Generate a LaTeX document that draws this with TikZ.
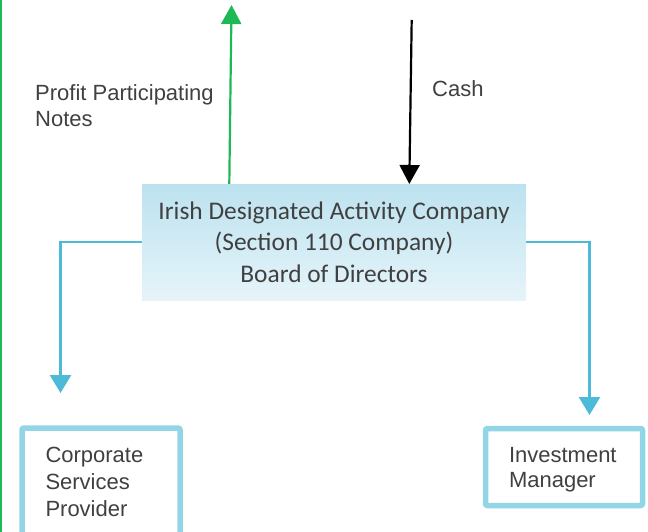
\documentclass[tikz,border=0pt]{standalone}
\usepackage{fontspec}
\setmainfont{Liberation Sans}
\newfontfamily\calfont{Carlito}
\usetikzlibrary{arrows.meta}
\definecolor{txt}{HTML}{404040}
\definecolor{grn}{HTML}{1DB954}
\definecolor{conn}{HTML}{4DBBD8}
\definecolor{bord}{HTML}{92D5E6}
\definecolor{boxtop}{HTML}{BCE2EF}
\definecolor{boxbot}{HTML}{E6F4F9}
\begin{document}
\begin{tikzpicture}[x=1pt,y=-1pt,
  mainbox/.style={rectangle, top color=boxtop, bottom color=boxbot, draw=none,
    minimum width=384pt, minimum height=116pt, inner sep=0pt, outer sep=0pt, align=center,
    text=txt, font=\calfont\fontsize{25.4}{31.7}\selectfont},
  sidebox/.style={rectangle, draw=bord, line width=5.5pt, rounded corners=2pt,
    fill=white, inner ysep=0pt, inner xsep=23.5pt, outer sep=0pt, align=left, text=txt,
    anchor=north west},
  lbl/.style={inner sep=0pt, text=txt, align=left, font=\fontsize{22}{26}\selectfont},
  flow/.style={line width=2.2pt},
  bluearrow/.style={conn, line width=2.6pt, -{Triangle[length=18pt,width=21pt]}}
]
\useasboundingbox (0,0) rectangle (648,532);

% left green edge
\coordinate (edgeTop) at (1,0);
\coordinate (edgeBot) at (1,532);
\draw[grn, line width=2.5pt] (edgeTop) -- (edgeBot);

% main box
\node[mainbox] (spv) at (334,242) {Irish Designated Activity Company\\(Section 110 Company)\\Board of Directors};

% side boxes
\node[sidebox, minimum width=158pt, minimum height=108pt, text width=111pt,
  font=\fontsize{22}{27.3}\selectfont] (csp) at (22,428) {Corporate\\Services\\Provider};
\node[sidebox, minimum width=157pt, minimum height=77pt, text width=110pt,
  font=\fontsize{22}{24.5}\selectfont] (im) at (485.5,428.5) {\rule{0pt}{21pt}Investment\\Manager};

% labels
\node[lbl, anchor=west] (ppn) at (35,106) {Profit Participating\\Notes};
\node[lbl, anchor=base west] (cash) at (432,96.7) {Cash};

% green arrow (up)
\coordinate (ppnTop) at (231.5,5);
\draw[grn, flow, -{Triangle[length=19pt,width=20pt]}] ([xshift=-104.7pt]spv.north) -- (ppnTop);

% black arrow (down)
\coordinate (cashTop) at (411.7,20);
\draw[black, flow, -{Triangle[length=19pt,width=20pt]}] (cashTop) -- ([xshift=75.3pt]spv.north);

% blue connectors
\draw[bluearrow, shorten >=35pt] (spv.west) -| ([xshift=-40.5pt]csp.north);
\draw[bluearrow, shorten >=13.5pt] (spv.east) -| ([xshift=25.5pt]im.north);
\end{tikzpicture}
\end{document}
